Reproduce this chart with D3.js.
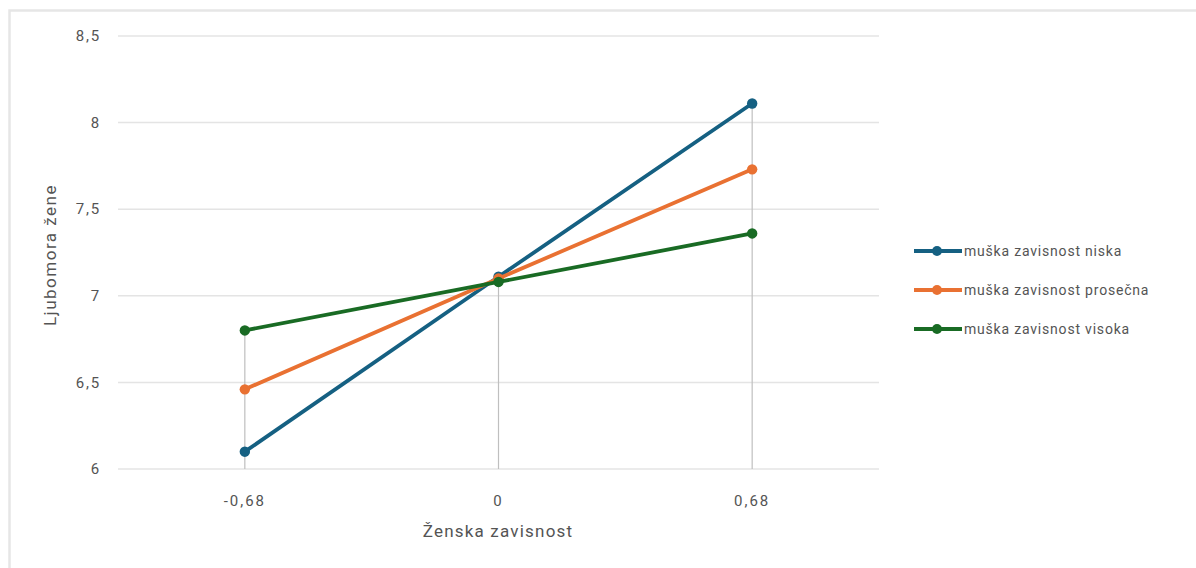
<!DOCTYPE html>
<html><head><meta charset="utf-8">
<script src="https://cdn.jsdelivr.net/npm/d3@7"></script>
<style>body{margin:0;background:#fff;}svg{display:block;font-family:Roboto,"Noto Sans",sans-serif;}</style>
</head><body><svg id="c" width="1196" height="568"></svg>
<script>
const categories = ["-0,68", "0", "0,68"];
const seriesNames = ["muška zavisnost niska", "muška zavisnost prosečna", "muška zavisnost visoka"];
const niska = [6.10, 7.11, 8.11];
const prosecna = [6.46, 7.10, 7.73];
const visoka = [6.80, 7.08, 7.36];
const colors = ["#156082", "#E97132", "#196B24"];
const yTicks = [6, 6.5, 7, 7.5, 8, 8.5];
const yTickLabels = ["6", "6,5", "7", "7,5", "8", "8,5"];
const series = [niska, prosecna, visoka];

(function(){
const svg = d3.select("#c");
const txt = "#545454";
// frame
svg.append("rect").attr("x",9.5).attr("y",10.5).attr("width",1200).attr("height",600)
  .attr("fill","none").attr("stroke","#e6e6e6").attr("stroke-width",2.5);

const pl = 118, pr = 879, pt = 36, pb = 469;
const x = d3.scalePoint().domain(categories).range([pl, pr]).padding(0.5);
const y = d3.scaleLinear().domain([6, 8.5]).range([pb, pt]);

// gridlines
svg.append("g").selectAll("line").data(yTicks).join("line")
  .attr("x1",pl).attr("x2",pr).attr("y1",d=>y(d)).attr("y2",d=>y(d))
  .attr("stroke","#e4e4e4").attr("stroke-width",1.5);

// y tick labels
svg.append("g").selectAll("text").data(yTicks).join("text")
  .attr("x",101).attr("y",d=>y(d)).attr("dy","0.35em").attr("text-anchor","end")
  .attr("font-size",15).attr("letter-spacing",1.8).attr("fill",txt).text((d,i)=>yTickLabels[i]);

// drop lines
categories.forEach((c,i)=>{
  const mx = d3.max(series, s=>s[i]);
  svg.append("line").attr("x1",x(c)).attr("x2",x(c)).attr("y1",y(mx)).attr("y2",pb)
    .attr("stroke","#bfbfbf").attr("stroke-width",1.2);
});

// x tick labels
svg.append("g").selectAll("text").data(categories).join("text")
  .attr("x",d=>x(d)).attr("y",501).attr("dy","0.35em").attr("text-anchor","middle")
  .attr("font-size",15).attr("letter-spacing",2).attr("fill",txt).text(d=>d);

// axis titles
svg.append("text").attr("x",498).attr("y",531).attr("dy","0.35em").attr("text-anchor","middle")
  .attr("font-size",17).attr("letter-spacing",1.2).attr("fill",txt).text("Ženska zavisnost");
svg.append("text").attr("transform","translate(50,255) rotate(-90)").attr("dy","0.35em")
  .attr("text-anchor","middle").attr("font-size",17).attr("letter-spacing",1.5).attr("fill",txt).text("Ljubomora žene");

// lines
const line = d3.line().x((d,i)=>x(categories[i])).y(d=>y(d));
series.forEach((s,k)=>{
  svg.append("path").datum(s).attr("d",line).attr("fill","none")
    .attr("stroke",colors[k]).attr("stroke-width",3.8).attr("stroke-linejoin","round");
  svg.append("g").selectAll("circle").data(s).join("circle")
    .attr("cx",(d,i)=>x(categories[i])).attr("cy",d=>y(d)).attr("r",5.2).attr("fill",colors[k]);
});

// legend
const ly = [251, 290, 329];
seriesNames.forEach((n,k)=>{
  const g = svg.append("g").attr("transform",`translate(0,${ly[k]})`);
  g.append("line").attr("x1",914).attr("x2",962).attr("y1",0).attr("y2",0)
    .attr("stroke",colors[k]).attr("stroke-width",3.8);
  g.append("circle").attr("cx",937).attr("cy",0).attr("r",5).attr("fill",colors[k]);
  g.append("text").attr("x",964).attr("y",0).attr("dy","0.35em").attr("font-size",14)
    .attr("fill",txt).attr("letter-spacing",0.8).text(n);
});
})();
</script></body></html>
